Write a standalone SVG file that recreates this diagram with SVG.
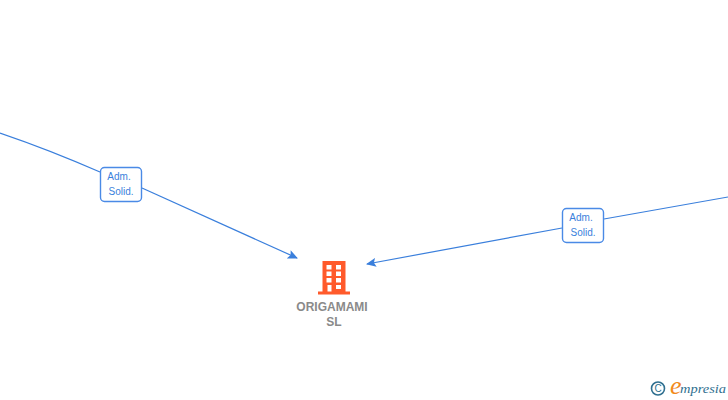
<svg xmlns="http://www.w3.org/2000/svg" width="728" height="400" viewBox="0 0 728 400">
<style>
.e{fill:none;stroke:#3a7fdc;stroke-width:1.2}
.b{fill:#fff;stroke:#4a8ae6;stroke-width:1.4}
.l{font:10px "Liberation Sans",Arial,sans-serif;fill:#3a7fdc;text-anchor:middle}
.n{font:bold 12px "Liberation Sans",Arial,sans-serif;fill:#8a8a8a;text-anchor:middle}
</style>
<defs><marker id="a" markerUnits="userSpaceOnUse" markerWidth="10" markerHeight="10" refX="9" refY="5" orient="auto"><path d="M0 0.500L10 5L0 9.500L2 5Z" fill="#3a7fdc"/></marker></defs>
<rect width="728" height="400" fill="#fff"/>
<g id="connectors">
<path class="e" d="M0 133Q50 150 100 172"/>
<path class="e" d="M142 188L297 258" marker-end="url(#a)"/>
<path class="e" d="M562 228L367 264" marker-end="url(#a)"/>
<path class="e" d="M604 219L728 197"/>
</g>
<g id="label-left"><rect class="b" x="100.500" y="167.500" width="41" height="34" rx="4"/><text class="l" x="119" y="180">Adm.</text><text class="l" x="121" y="195">Solid.</text></g>
<g id="label-right"><rect class="b" x="562.500" y="208.500" width="41" height="34" rx="4"/><text class="l" x="581" y="221">Adm.</text><text class="l" x="583" y="236">Solid.</text></g>
<g id="node-origamami">
<path fill="#ff5a2b" fill-rule="evenodd" d="M322.500 261H345.500V291.500H350V294.500H318V291.500H322.500ZM326.500 265v4.500h5v-4.500ZM336 265v4.500h5v-4.500ZM326.500 271.500v4.500h5v-4.500ZM336 271.500v4.500h5v-4.500ZM326.500 278v4.500h5v-4.500ZM336 278v4.500h5v-4.500ZM327.500 285v6.500h4v-6.500ZM336 285v4h5v-4Z"/>
<text class="n" x="332" y="311">ORIGAMAMI</text><text class="n" x="334" y="326">SL</text></g>
<g id="logo">
<circle cx="658" cy="388.500" r="6.500" fill="none" stroke="#2f6f8f" stroke-width="1.600"/>
<text x="658" y="392" font-family="Liberation Sans,sans-serif" font-size="10" fill="#2f6f8f" text-anchor="middle">C</text>
<text x="670" y="394" font-family="Liberation Serif,serif" font-style="italic" font-size="26" fill="#f28a1c">e</text>
<text x="680" y="393" font-family="Liberation Serif,serif" font-style="italic" font-size="13.500" textLength="46" lengthAdjust="spacingAndGlyphs" fill="#2f6f8f">mpresia</text>
</g>
</svg>
